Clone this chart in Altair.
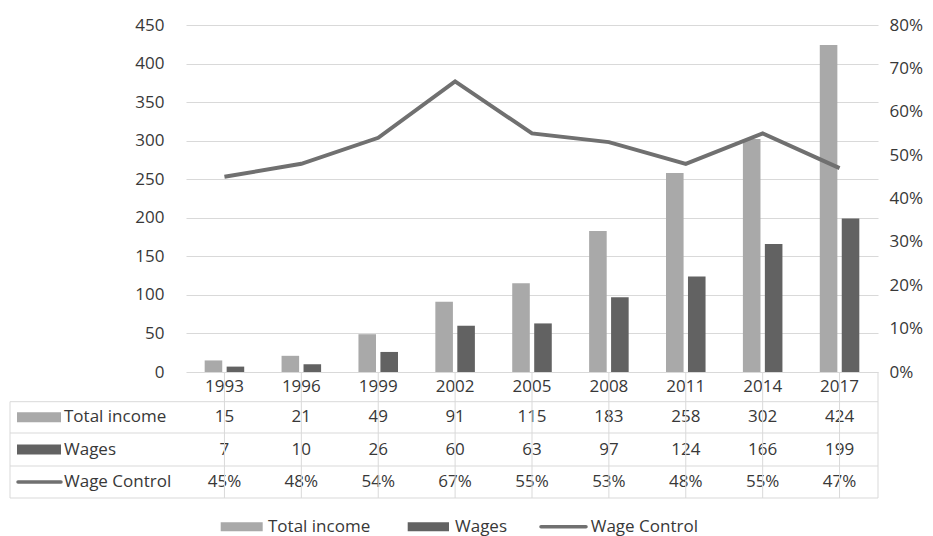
import altair as alt
import pandas as pd

years = ["1993", "1996", "1999", "2002", "2005", "2008", "2011", "2014", "2017"]
total_income = [15, 21, 49, 91, 115, 183, 258, 302, 424]
wages = [7, 10, 26, 60, 63, 97, 124, 166, 199]
wage_control = [0.45, 0.48, 0.54, 0.67, 0.55, 0.53, 0.48, 0.55, 0.47]
series_names = ["Total income", "Wages", "Wage Control"]
left_ticks = [0, 50, 100, 150, 200, 250, 300, 350, 400, 450]
right_ticks = [0, 0.1, 0.2, 0.3, 0.4, 0.5, 0.6, 0.7, 0.8]

# ---- styling / layout ----
FONT = "Open Sans"
FS = 17
TXT = "#383838"
GRID = "#D9D9D9"
C_LIGHT = "#A9A9A9"
C_DARK = "#626262"
C_LINE = "#707070"
W, H = 692, 347

bars_df = pd.DataFrame(
    {"year": years * 2,
     "series": ["Total income"] * len(years) + ["Wages"] * len(years),
     "value": total_income + wages}
)
line_df = pd.DataFrame({"year": years, "control": wage_control})

x_enc = alt.X("year:N", sort=years,
              scale=alt.Scale(domain=years, paddingInner=0, paddingOuter=0),
              axis=None)

bars = alt.Chart(bars_df).mark_bar().encode(
    x=x_enc,
    xOffset=alt.XOffset("series:N", sort=series_names[:2],
                        scale=alt.Scale(domain=series_names[:2], paddingInner=0.2, paddingOuter=0.85)),
    y=alt.Y("value:Q", scale=alt.Scale(domain=[0, 450], nice=False),
            axis=alt.Axis(values=left_ticks, title=None, orient="left", domain=False, ticks=False,
                          grid=True, gridColor=GRID, gridWidth=1, labelPadding=22,
                          labelFont=FONT, labelFontSize=FS, labelColor=TXT)),
    color=alt.Color("series:N", scale=alt.Scale(domain=series_names[:2], range=[C_LIGHT, C_DARK]),
                    legend=None),
)

line = alt.Chart(line_df).mark_line(color=C_LINE, strokeWidth=4).encode(
    x=x_enc,
    y=alt.Y("control:Q", scale=alt.Scale(domain=[0, 0.8], nice=False),
            axis=alt.Axis(values=right_ticks, format=".0%", title=None, orient="right",
                          domain=False, ticks=False, grid=False, labelPadding=11,
                          labelFont=FONT, labelFontSize=FS, labelColor=TXT)),
)

# ---- data table ----
row_y_header = 361.8
row_centers = [392.3, 424.5, 457.0]
hlines = [376.7, 408.0, 441.0, 473.0]
LEFT_EDGE = -176

table_rows = [
    [str(v) for v in total_income],
    [str(v) for v in wages],
    [f"{round(v * 100)}%" for v in wage_control],
]

layers = [bars, line]

txt_props = dict(font=FONT, fontSize=FS, color=TXT, baseline="middle")

header = alt.Chart(pd.DataFrame({"year": years, "label": years})).mark_text(align="center", **txt_props).encode(
    x=x_enc, y=alt.value(row_y_header), text="label:N")
layers.append(header)

for vals, yc in zip(table_rows, row_centers):
    t = alt.Chart(pd.DataFrame({"year": years, "label": vals})).mark_text(align="center", **txt_props).encode(
        x=x_enc, y=alt.value(yc), text="label:N")
    layers.append(t)

# row labels
for name, yc in zip(series_names, row_centers):
    lab = alt.Chart(pd.DataFrame({"label": [name]})).mark_text(align="left", **txt_props).encode(
        x=alt.value(-122), y=alt.value(yc), text="label:N")
    layers.append(lab)

# row swatches
sw_colors = [C_LIGHT, C_DARK]
for c, yc in zip(sw_colors, row_centers[:2]):
    sw = alt.Chart(pd.DataFrame({"k": [0]})).mark_rect(color=c).encode(
        x=alt.value(-169), x2=alt.value(-125), y=alt.value(yc - 5), y2=alt.value(yc + 5))
    layers.append(sw)
sw_line = alt.Chart(pd.DataFrame({"k": [0]})).mark_rule(color=C_LINE, strokeWidth=3.5, strokeCap="round").encode(
    x=alt.value(-168), x2=alt.value(-125), y=alt.value(row_centers[2]))
layers.append(sw_line)

# table borders
vgrid = alt.Chart(pd.DataFrame({"year": years})).mark_rule(color=GRID, strokeWidth=1).encode(
    x=x_enc, y=alt.value(H), y2=alt.value(hlines[-1]))
layers.append(vgrid)
right_border = alt.Chart(pd.DataFrame({"k": [0]})).mark_rule(color=GRID, strokeWidth=1).encode(
    x=alt.value(W), y=alt.value(H), y2=alt.value(hlines[-1]))
left_border = alt.Chart(pd.DataFrame({"k": [0]})).mark_rule(color=GRID, strokeWidth=1).encode(
    x=alt.value(LEFT_EDGE), y=alt.value(hlines[0]), y2=alt.value(hlines[-1]))
layers += [right_border, left_border]
for hy in hlines:
    hl = alt.Chart(pd.DataFrame({"k": [0]})).mark_rule(color=GRID, strokeWidth=1).encode(
        x=alt.value(LEFT_EDGE), x2=alt.value(W), y=alt.value(hy))
    layers.append(hl)

# ---- legend ----
LEG_Y = 501.7
leg_items = [
    ("Total income", C_LIGHT, 34.7, 76.7, 82.0, "rect"),
    ("Wages", C_DARK, 221.7, 263.0, 269.0, "rect"),
    ("Wage Control", C_LINE, 355.0, 400.0, 404.7, "line"),
]
for name, c, x0, x1, xt, kind in leg_items:
    if kind == "rect":
        s = alt.Chart(pd.DataFrame({"k": [0]})).mark_rect(color=c).encode(
            x=alt.value(x0), x2=alt.value(x1), y=alt.value(LEG_Y - 4.5), y2=alt.value(LEG_Y + 4.5))
    else:
        s = alt.Chart(pd.DataFrame({"k": [0]})).mark_rule(color=c, strokeWidth=3.5, strokeCap="round").encode(
            x=alt.value(x0), x2=alt.value(x1), y=alt.value(LEG_Y))
    t = alt.Chart(pd.DataFrame({"label": [name]})).mark_text(align="left", **txt_props).encode(
        x=alt.value(xt), y=alt.value(LEG_Y), text="label:N")
    layers += [s, t]

chart = alt.layer(*layers).resolve_scale(y="independent").properties(
    width=W, height=H,
    autosize=alt.AutoSizeParams(type="none"),
    padding={"left": 186, "top": 25, "right": 55, "bottom": 164},
    background="white",
).configure_view(stroke=None)

chart.save("out.html", embed_options={"renderer": "svg", "actions": False})
